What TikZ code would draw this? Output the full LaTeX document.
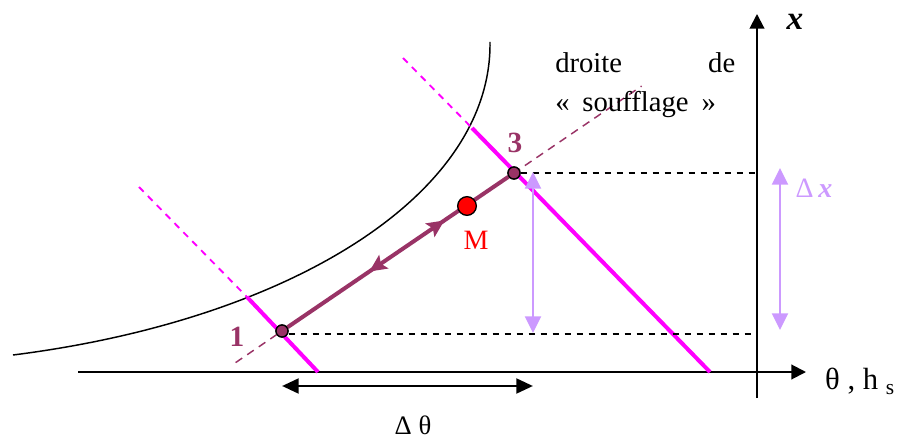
\documentclass[tikz,border=0pt]{standalone}
\usepackage{fontspec}
\setmainfont{Liberation Serif}
\usepackage{tikz}
\usetikzlibrary{arrows.meta,decorations.markings,calc}
\definecolor{prune}{HTML}{993366}
\definecolor{lavande}{HTML}{CC99FF}
\definecolor{fuchsia}{RGB}{255,0,255}
\tikzset{
  axe/.style={line width=1.5pt,-{Triangle[length=11pt,width=11pt]}},
  isoh/.style={fuchsia,line width=3pt},
  isohp/.style={fuchsia,line width=1.4pt,dash pattern=on 5pt off 4.5pt},
  etat/.style={circle,draw=black,fill=prune,line width=1pt,inner sep=0pt,minimum size=9pt},
  rappel/.style={black,line width=1.1pt,dash pattern=on 5pt off 4pt},
  ecart/.style={lavande,line width=1.5pt,{Triangle[length=12.5pt,width=12pt]}-{Triangle[length=12.5pt,width=12pt]}},
  lbl/.style={text=prune,font=\bfseries\fontsize{22}{24}\selectfont},
  fleche/.style={postaction={decorate},decoration={markings,
    mark=at position 0.71 with {\arrow{Stealth[length=13pt,width=12pt,inset=2.5pt]}},
    mark=at position 0.37 with {\arrowreversed{Stealth[length=13pt,width=12pt,inset=2.5pt]}}}}
}
\begin{document}
\begin{tikzpicture}[x=0.75pt,y=-0.75pt,font=\fontsize{20}{23}\selectfont]
\useasboundingbox (0,0) rectangle (920,438);
% axes
\coordinate (h0) at (78,372); \coordinate (h1) at (806,372);
\coordinate (v0) at (757,398); \coordinate (v1) at (757,14);
\draw[axe] (h0)--(h1);
\draw[axe] (v0)--(v1);
\node[font=\fontsize{25}{28}\selectfont] (lx) at (795,22) {\textbf{\textit{x}}};
\node[font=\fontsize{23}{26}\selectfont] (lth) at (860,381) {θ , h \textsubscript{s}};
% courbe de saturation
\draw[line width=1.1pt] (13,355) .. controls (290,320) and (492,195) .. (490,42);
% isenthalpes
\coordinate (c1) at (139,187); \coordinate (a1) at (247,297); \coordinate (b1) at (318,372);
\coordinate (c3) at (403,58); \coordinate (a3) at (472,128); \coordinate (b3) at (710,372);
\draw[isohp] (c1)--(a1); \draw[isoh] (a1)--(b1);
\draw[isohp] (c3)--(a3); \draw[isoh] (a3)--(b3);
% droite de soufflage
\node[etat] (p1) at (282,331) {};
\node[etat] (p3) at (514,173) {};
\coordinate (s0) at ($(p1)!-0.2!(p3)$); \coordinate (s1) at ($(p3)!-0.55!(p1)$);
\draw[prune,line width=1.1pt,dash pattern=on 6pt off 4.5pt] (s0)--(s1);
\draw[rappel] (p1.east |- 0,334) -- (757,334);
\draw[rappel] (p3)--(p3 -| v0);
\draw[prune,line width=3pt,fleche] (p1)--(p3);
\node[etat] at (p1) {}; \node[etat] at (p3) {};
\node[circle,draw=black,fill=red,line width=1pt,inner sep=0pt,minimum size=14pt] (pm) at (467,206) {};
\node[text=red,font=\fontsize{21}{24}\selectfont] (lm) at (476,240) {M};
\node[lbl] (l1) at (237,337) {1};
\node[lbl] (l3) at (515,143) {3};
% ecarts
\coordinate (d0) at (533,172); \coordinate (d1) at (533,333);
\draw[ecart] (d0)--(d1);
\coordinate (e0) at (780,168); \coordinate (e1) at (780,330);
\draw[ecart] (e0)--(e1);
\node[text=lavande,font=\fontsize{21}{24}\selectfont] (ldx) at (814,188) {Δ\,\textbf{\textit{x}}};
\coordinate (t0) at (282,386); \coordinate (t1) at (533,386);
\draw[line width=2.2pt,{Triangle[length=12.5pt,width=11pt]}-{Triangle[length=12.5pt,width=11pt]}] (t0)--(t1);
\node[inner sep=0pt] (lt) at (413,425) {Δ θ};
\node[align=left,inner sep=0pt,anchor=west,font=\fontsize{21.5}{29}\selectfont] (ls) at (555,85)
  {\hbox to 135pt{droite\hfill de}\\«\hspace{0.45em}soufflage\hspace{0.45em}»};
\end{tikzpicture}
\end{document}
